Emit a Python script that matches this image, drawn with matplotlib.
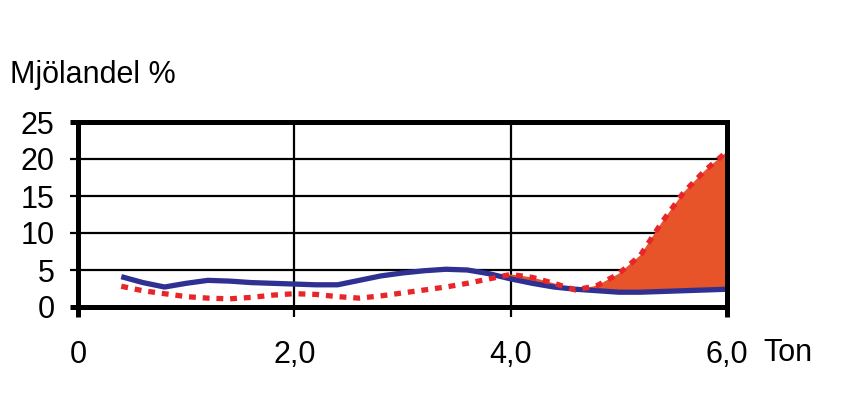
import matplotlib.pyplot as plt

plt.rcParams['font.family'] = ['Liberation Sans', 'DejaVu Sans']

# ---- data ----
ton = [0.4, 0.6, 0.8, 1.0, 1.2, 1.4, 1.6, 1.8, 2.0, 2.2, 2.4, 2.6, 2.8, 3.0,
       3.2, 3.4, 3.6, 3.8, 4.0, 4.2, 4.4, 4.6, 4.8, 5.0, 5.2, 5.4, 5.6, 5.8, 6.0]
blue = [4.1, 3.3, 2.7, 3.2, 3.6, 3.5, 3.3, 3.2, 3.1, 3.0, 3.0, 3.6, 4.2, 4.6,
        4.9, 5.1, 5.0, 4.5, 3.8, 3.2, 2.7, 2.4, 2.2, 2.0, 2.0, 2.1, 2.2, 2.3, 2.4]
red = [2.8, 2.2, 1.8, 1.4, 1.2, 1.1, 1.3, 1.6, 1.8, 1.7, 1.4, 1.2, 1.5, 1.9,
       2.3, 2.7, 3.2, 3.8, 4.4, 4.0, 3.2, 2.3, 2.9, 4.5, 7.0, 11.5, 15.5, 18.5, 21.0]

x_ticks = [0, 2, 4, 6]
x_labels = ["0", "2,0", "4,0", "6,0"]
y_ticks = [0, 5, 10, 15, 20, 25]

fig = plt.figure(figsize=(8.66, 3.94), dpi=100)
ax = fig.add_axes([78 / 866, 1 - 307 / 394, (727 - 78) / 866, (307 - 122) / 394])

# fill where red is above blue
ax.fill_between(ton, blue, red, where=[r > b for r, b in zip(red, blue)],
                interpolate=True, color="#e8542a", linewidth=0, zorder=2)
ax.plot(ton, blue, color="#2e3192", lw=3.8, solid_capstyle="butt",
        solid_joinstyle="round", zorder=3)
ax.plot(ton, red, color="#e8262a", lw=3.8, linestyle=(0, (1.3, 1.3)),
        dash_capstyle="butt", zorder=4)

ax.set_xlim(0, 6)
ax.set_ylim(0, 25)

# grid
for yv in [5, 10, 15, 20]:
    ax.axhline(yv, color="black", lw=1.6, zorder=1)
for xv in [2, 4]:
    ax.axvline(xv, color="black", lw=1.6, zorder=1)

for s in ax.spines.values():
    s.set_linewidth(3.6)
    s.set_zorder(5)

ax.set_xticks(x_ticks)
ax.set_xticklabels(x_labels)
ax.set_yticks(y_ticks)
ax.tick_params(axis="x", direction="out", length=7, width=1.6, pad=17, labelsize=22)
ax.tick_params(axis="y", direction="out", length=6, width=1.6, pad=11, labelsize=22)
xt = ax.xaxis.get_major_ticks()
xt[0].tick1line.set_markeredgewidth(3.6)
xt[-1].tick1line.set_markeredgewidth(3.6)
yt = ax.yaxis.get_major_ticks()
yt[0].tick1line.set_markeredgewidth(3.6)
yt[-1].tick1line.set_markeredgewidth(3.6)

fig.text(10 / 866, 1 - 75 / 394, "Mjölandel %", fontsize=22, va="center", ha="left")
fig.text(763 / 866, 1 - 353 / 394, "Ton", fontsize=22, va="center", ha="left")

fig.savefig("out.png", dpi=100)
